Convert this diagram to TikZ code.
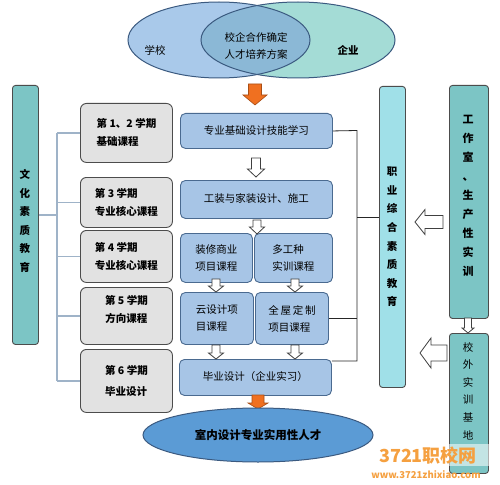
\documentclass[tikz,border=0pt]{standalone}
\usepackage{fontspec}
\setmainfont{Noto Sans CJK SC}
\usetikzlibrary{shapes.geometric}
\definecolor{semgray}{HTML}{E2E2E2}
\definecolor{bluefill}{HTML}{A7C5E6}
\definecolor{blueborder}{HTML}{4A6A90}
\definecolor{tealbox}{HTML}{7CC5C5}
\definecolor{cyanbox}{HTML}{A0E0E8}
\definecolor{ellL}{HTML}{A9C9EA}
\definecolor{ellR}{HTML}{A4DCD6}
\definecolor{ellO}{HTML}{8BB8D6}
\definecolor{ellline}{HTML}{3B5A80}
\definecolor{botell}{HTML}{5B9BD5}
\definecolor{orangearr}{HTML}{F07020}
\definecolor{bracket}{HTML}{9FB3C8}
\definecolor{wm}{HTML}{F5A040}
\newcommand\myDarr[7]{% cx, y0, y1, shaft, head, headlen, style
  \draw[#7] ({#1-#4/2},#2) -- ({#1+#4/2},#2) -- ({#1+#4/2},{#3-#6}) -- ({#1+#5/2},{#3-#6})
    -- (#1,#3) -- ({#1-#5/2},{#3-#6}) -- ({#1-#4/2},{#3-#6}) -- cycle;}
\newcommand\myLarr[7]{% cy, x0(right), x1(tip), shaft, head, headlen, style
  \draw[#7] (#2,{#1-#4/2}) -- (#2,{#1+#4/2}) -- ({#3+#6},{#1+#4/2}) -- ({#3+#6},{#1+#5/2})
    -- (#3,#1) -- ({#3+#6},{#1-#5/2}) -- ({#3+#6},{#1-#4/2}) -- cycle;}
\tikzset{
  sem/.style={draw=black!70, fill=semgray, rounded corners=6pt, line width=0.9pt,
    anchor=north west, inner sep=0pt, font=\bfseries\fontsize{10.5}{18}\selectfont, align=left},
  blu/.style={draw=blueborder, fill=bluefill, rounded corners=5pt, line width=0.9pt,
    anchor=north west, inner sep=0pt, font=\fontsize{10.5}{17}\selectfont, align=left},
  vbox/.style={draw=black!70, rounded corners=3pt, line width=0.9pt, anchor=north west, inner sep=0pt},
  vtext/.style={font=\bfseries\fontsize{10.5}{18.6}\selectfont, align=center, inner sep=0pt},
  wharr/.style={draw=black!75, fill=white, line width=0.8pt},
  orarr/.style={draw=orangearr!70!black, fill=orangearr, line width=0.6pt},
  brline/.style={draw=bracket, line width=1.2pt},
  conn/.style={draw=black!85, line width=0.8pt},
}
\begin{document}
\begin{tikzpicture}[x=1pt,y=-1pt]
\useasboundingbox[fill=white] (0,0) rectangle (500,484);
% top ellipses
\fill[ellL] (219,40) ellipse [x radius=91pt, y radius=38pt];
\fill[ellR] (298,40) ellipse [x radius=97pt, y radius=38pt];
\begin{scope}
  \clip (219,40) ellipse [x radius=91pt, y radius=38pt];
  \fill[ellO] (298,40) ellipse [x radius=97pt, y radius=38pt];
\end{scope}
\draw[ellline, line width=1pt] (219,40) ellipse [x radius=91pt, y radius=38pt];
\draw[ellline, line width=1pt] (298,40) ellipse [x radius=97pt, y radius=38pt];
\node[font=\fontsize{10.5}{12}\selectfont] (school) at (155,50) {学校};
\node[font=\bfseries\fontsize{10.5}{12}\selectfont] (firm) at (348,50) {企业};
\node[font=\fontsize{10.5}{17}\selectfont, align=center] (coop) at (256,46) {校企合作确定\\人才培养方案};
% orange arrow top
\myDarr{255}{84}{105}{13}{24}{10}{orarr}
% left vertical box
\node[vbox, fill=tealbox, minimum width=26pt, minimum height=259pt] (L) at (12,85) {};
\node[vtext] (Ltext) at (25,221) {文\\化\\素\\质\\教\\育};
% semester boxes
\node[sem, minimum width=92pt, minimum height=59pt] (s1) at (80,103) {第 1、2 学期\\基础课程};
\node[sem, minimum width=92pt, minimum height=50pt] (s2) at (80,177) {第 3 学期\\专业核心课程};
\node[sem, minimum width=92pt, minimum height=52pt] (s3) at (80,230) {第 4 学期\\专业核心课程};
\node[sem, minimum width=92pt, minimum height=57pt, align=center] (s4) at (80,287) {第 5 学期\\方向课程\\[-4pt]\phantom{x}};
\node[sem, minimum width=92pt, minimum height=63pt, font=\bfseries\fontsize{10.5}{21}\selectfont] (s5) at (80,349) {第 6 学期\\毕业设计};
% bracket
\coordinate (brT) at (57,132.5);
\coordinate (brB) at (57,380.5);
\draw[brline] (brT) -- (brB);
\draw[brline] (L.east) -- (L.east -| brT);
\foreach \s in {s1,s2,s3,s4,s5} \draw[brline] (\s.west) -- (\s.west -| brT);
% blue boxes
\node[blu, minimum width=152pt, minimum height=35pt] (b1) at (180,113) {专业基础设计技能学习};
\node[blu, minimum width=152pt, minimum height=38pt] (b2) at (180,180) {\\[-10pt]工装与家装设计、施工};
\node[blu, minimum width=72pt, minimum height=49pt] (b3) at (180,233) {装修商业\\项目课程};
\node[blu, minimum width=78pt, minimum height=49pt] (b4) at (254,233) {多工种\\实训课程};
\node[blu, minimum width=73pt, minimum height=52pt] (b5) at (180,292) {云设计项\\目课程};
\node[blu, minimum width=73pt, minimum height=52pt] (b6) at (255,292) {全\,屋\,定\,制\\项目课程};
\node[blu, minimum width=152pt, minimum height=36pt] (b7) at (179,359) {\\[-10pt]毕业设计（企业实习）};
% white arrows
\myDarr{256}{158}{177}{9}{17}{8}{wharr}
\myDarr{257}{220}{234}{8}{15}{7}{wharr}
\myDarr{216}{279}{292}{8}{15}{6}{wharr}
\myDarr{295}{279}{292}{8}{15}{6}{wharr}
\myDarr{216}{345}{359}{8}{15}{6}{wharr}
\myDarr{295}{345}{359}{8}{15}{6}{wharr}
% orange arrow bottom
\myDarr{258}{395}{409}{12}{20}{6}{orarr}
% bottom ellipse
\node[ellipse, draw=ellline, line width=1pt, fill=botell, minimum width=230pt, minimum height=54pt,
  inner sep=0pt, font=\bfseries\fontsize{11.5}{13}\selectfont] (talent) at (258,435) {室内设计专业实用性人才};
% middle right vertical box
\node[vbox, fill=cyanbox, minimum width=26pt, minimum height=301pt] (M) at (379,86) {};
\node[vtext] (Mtext) at (392,237) {职\\业\\综\\合\\素\\质\\教\\育};
% right connector
\coordinate (vT) at (357,130.5);
\coordinate (vB) at (357,361);
\draw[conn] (b1.east) -- (vT) -- (vB) -- (vB -| b7.east);
\draw[conn] (b6.east) -- (b6.east -| vT);
\draw[conn] (M.west |- 0,217) -- (357,217);
% right boxes
\node[vbox, fill=tealbox, minimum width=39pt, minimum height=233pt] (R1) at (449,85) {};
\node[vtext, font=\bfseries\fontsize{11}{19}\selectfont] (R1text) at (468,196) {工\\作\\室\\、\\生\\产\\性\\实\\训};
\node[vbox, fill=tealbox, minimum width=39pt, minimum height=140pt] (R2) at (449,333) {};
\node[vtext, font=\fontsize{10.5}{17.6}\selectfont] (R2text) at (468,391) {校\\外\\实\\训\\基\\地};
\myDarr{468}{318}{333}{7}{12}{5}{wharr}
% left-pointing arrows
\myLarr{222}{443}{415}{13}{25}{10}{wharr}
\myLarr{353}{447}{420}{16}{30}{11}{wharr}
% watermark
\fill[white, opacity=0.55] (372,444) rectangle (490,466);
\node[text=wm, font=\bfseries\fontsize{18}{19}\selectfont, inner sep=0pt] (wm1) at (428,456) {3721职校网};
\node[text=wm, font=\bfseries\fontsize{9.5}{10}\selectfont, inner sep=0pt] (wm2) at (426,475) {www.3721zhixiao.com};
\end{tikzpicture}
\end{document}
